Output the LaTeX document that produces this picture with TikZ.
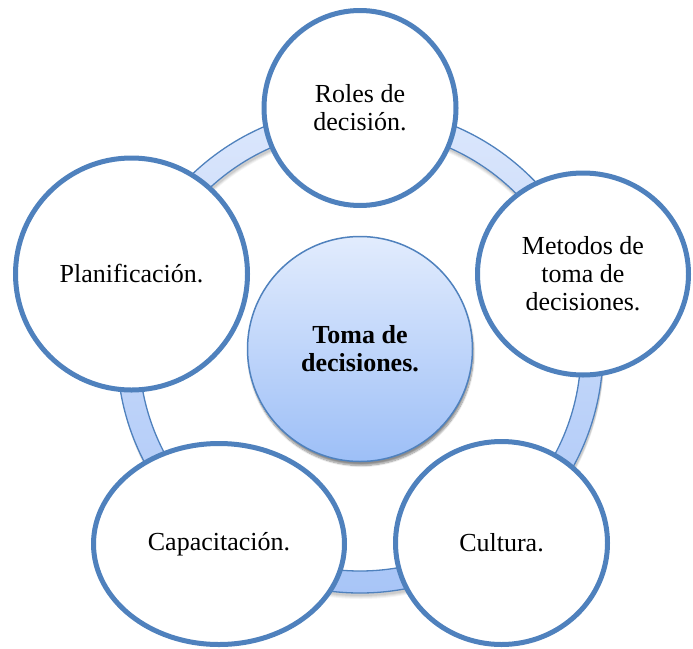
\documentclass[tikz,border=0pt]{standalone}
\usepackage{fontspec}
\setmainfont{Liberation Serif}
\usetikzlibrary{shapes.geometric,shadows.blur}
\definecolor{bordblue}{RGB}{79,129,189}
\definecolor{ringtop}{RGB}{220,231,252}
\definecolor{ringbot}{RGB}{168,197,247}
\definecolor{ctop}{RGB}{226,236,253}
\definecolor{cbot}{RGB}{157,191,247}
\begin{document}
\begin{tikzpicture}[x=1pt,y=-1pt,
  outerc/.style={ellipse, draw=bordblue, line width=5pt, fill=white, inner sep=0pt,
    align=center, font=\fontsize{26}{28}\selectfont},
  centerc/.style={circle, draw=bordblue, line width=1.5pt, top color=ctop, bottom color=cbot,
    inner sep=0pt, minimum size=225pt, align=center, font=\fontsize{26}{28}\selectfont\bfseries,
    blur shadow={shadow xshift=1pt, shadow yshift=-4pt, shadow blur steps=10, shadow opacity=45}},
  ringline/.style={draw=bordblue, line width=1.3pt}
]
\useasboundingbox (0,0) rectangle (693,648);
\coordinate (rc) at (360,350);
% ring shadow
\foreach \d/\o in {6/0.04,5/0.05,4/0.06,3/0.07}{
  \fill[black, opacity=\o, even odd rule] ([shift={(1,\d)}]rc) circle[radius=243pt] ([shift={(1,\d)}]rc) circle[radius=221pt];
}
% ring
\shade[top color=ringtop, bottom color=ringbot, even odd rule]
  (rc) circle[radius=243pt] (rc) circle[radius=221pt];
\draw[ringline] (rc) circle[radius=243pt];
\draw[ringline] (rc) circle[radius=221pt];
% center
\node[centerc] (center) at (360,349) {Toma de\\decisiones.};
% outer circles
\node[outerc, minimum width=192pt, minimum height=195pt] (roles) at (360,108) {Roles de\\decisión.};
\node[outerc, minimum width=211pt, minimum height=202pt] (metodos) at (583,274) {Metodos de\\toma de\\decisiones.};
\node[outerc, minimum width=212pt, minimum height=203pt] (cultura) at (501.5,543) {Cultura.};
\node[outerc, minimum width=251pt, minimum height=201pt] (capac) at (219,544) {Capacitación.};
\node[outerc, minimum width=232pt, minimum height=232pt] (plan) at (131.5,274) {Planificación.};
\end{tikzpicture}
\end{document}
